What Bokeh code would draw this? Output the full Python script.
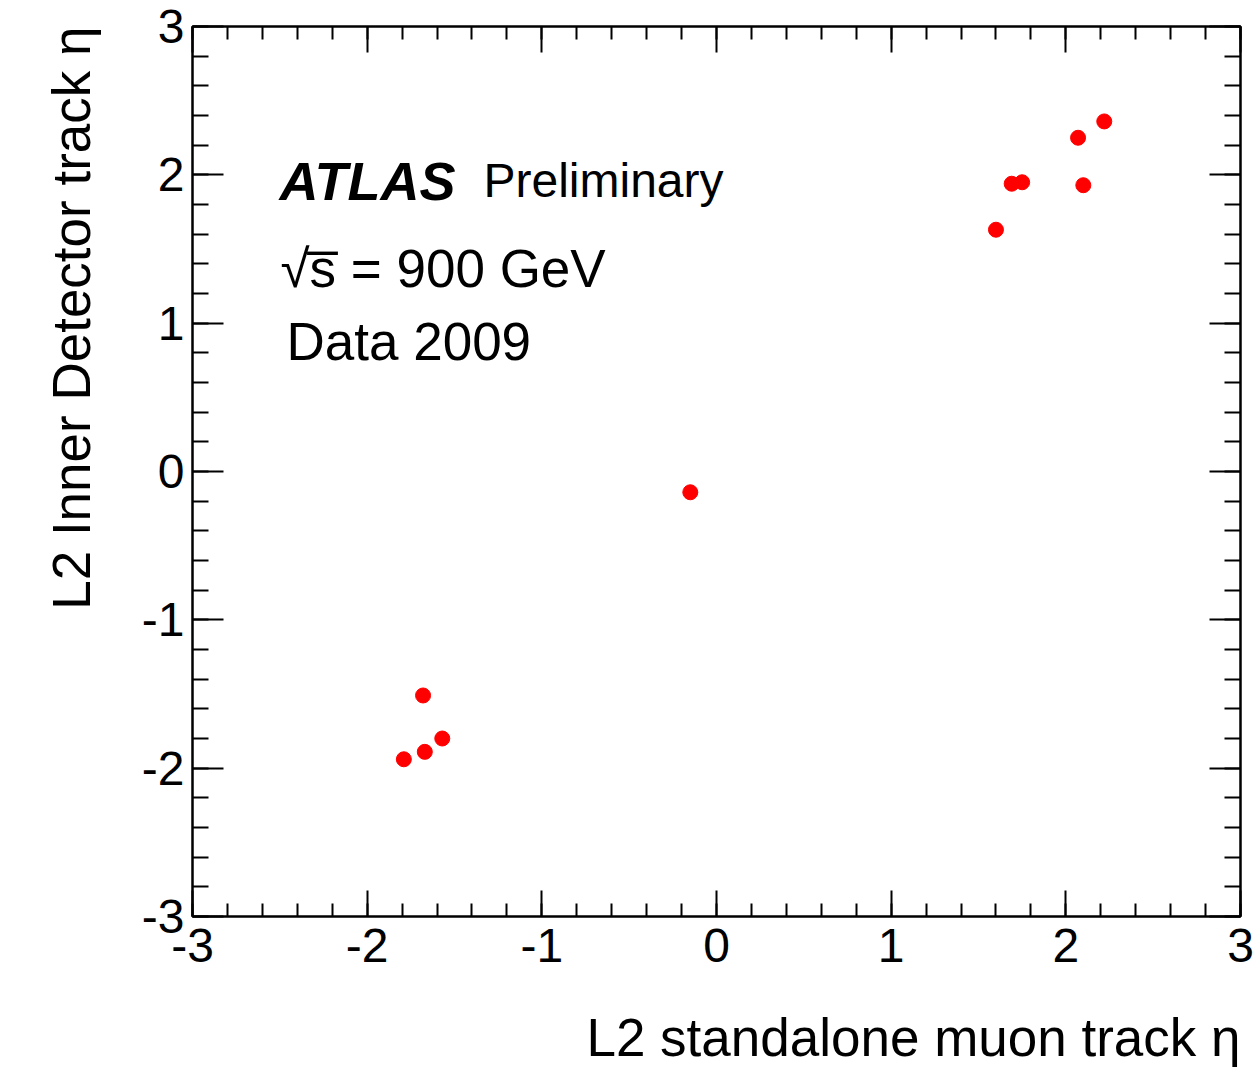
import math
from bokeh.plotting import figure
from bokeh.models import LinearAxis, Label, Range1d, FixedTicker, Title
from bokeh.embed import file_html
from bokeh.resources import INLINE

# L2 muon eta: standalone muon track vs inner detector track
muon_eta = [2.22, 2.07, 1.69, 1.75, 2.10, 1.60, -0.15, -1.68, -1.57, -1.67, -1.79]
id_eta = [2.36, 2.25, 1.94, 1.95, 1.93, 1.63, -0.14, -1.51, -1.80, -1.89, -1.94]

major_ticks = [-3, -2, -1, 0, 1, 2, 3]
minor_ticks = [round(-3 + 0.2 * i, 2) for i in range(31)]
tick_labels = {t: str(t) for t in major_ticks}

FONT = "Liberation Sans"

p = figure(
    frame_width=1048, frame_height=890,
    x_range=Range1d(-3, 3), y_range=Range1d(-3, 3),
    output_backend="svg", toolbar_location=None,
    x_axis_location=None, y_axis_location=None,
    min_border_left=192, min_border_right=15,
    min_border_top=26, min_border_bottom=151,
)
p.grid.visible = False
p.background_fill_color = "white"
p.border_fill_color = "white"
p.outline_line_color = "black"
p.outline_line_width = 2


def make_axis(side, labels):
    ax = LinearAxis(ticker=FixedTicker(ticks=major_ticks, minor_ticks=minor_ticks))
    ax.axis_line_color = "black"
    ax.axis_line_width = 2
    ax.major_tick_line_width = 2
    ax.minor_tick_line_width = 2
    ax.major_tick_out = 0
    ax.minor_tick_out = 0
    if side in ("left", "right"):
        ax.major_tick_in = 31
        ax.minor_tick_in = 16
    else:
        ax.major_tick_in = 26
        ax.minor_tick_in = 13
    if labels:
        ax.major_label_overrides = tick_labels
        ax.major_label_text_font = FONT
        ax.major_label_text_font_size = "48px"
        ax.major_label_text_color = "black"
        ax.major_label_standoff = 8 if side == "left" else 12
    else:
        ax.major_label_text_font_size = "0px"
        ax.major_label_standoff = 0
    p.add_layout(ax, side)
    return ax


make_axis("left", True)
make_axis("below", True)
make_axis("right", False)
make_axis("above", False)

p.scatter(muon_eta, id_eta, size=15, marker="circle",
          fill_color="#ff0000", line_color="#ff0000")

# axis titles, right-aligned at the frame ends
p.add_layout(Title(text="L2 standalone muon track η", align="right",
                   text_font=FONT, text_font_size="53px",
                   text_font_style="normal", text_color="black",
                   text_line_height=0.9, standoff=83), "below")
p.add_layout(Title(text="L2 Inner Detector track η", align="right",
                   text_font=FONT, text_font_size="53px",
                   text_font_style="normal", text_color="black",
                   text_line_height=1.0, standoff=76), "left")

# experiment labels
p.add_layout(Label(x=-3, y=3, x_offset=87, y_offset=-154, text="ATLAS",
                   text_font=FONT, text_font_style="bold italic",
                   text_font_size="54px", text_color="black",
                   text_baseline="alphabetic"))
p.add_layout(Label(x=-3, y=3, x_offset=291, y_offset=-154, text="Preliminary",
                   text_font=FONT, text_font_size="48px", text_color="black",
                   text_baseline="alphabetic"))
p.add_layout(Label(x=-3, y=3, x_offset=88, y_offset=-242, text="√s̅ = 900 GeV",
                   text_font=FONT, text_font_size="53px", text_color="black",
                   text_baseline="alphabetic"))
p.add_layout(Label(x=-3, y=3, x_offset=94, y_offset=-315, text="Data 2009",
                   text_font=FONT, text_font_size="53px", text_color="black",
                   text_baseline="alphabetic"))

open("out.html", "w").write(file_html(p, INLINE))
